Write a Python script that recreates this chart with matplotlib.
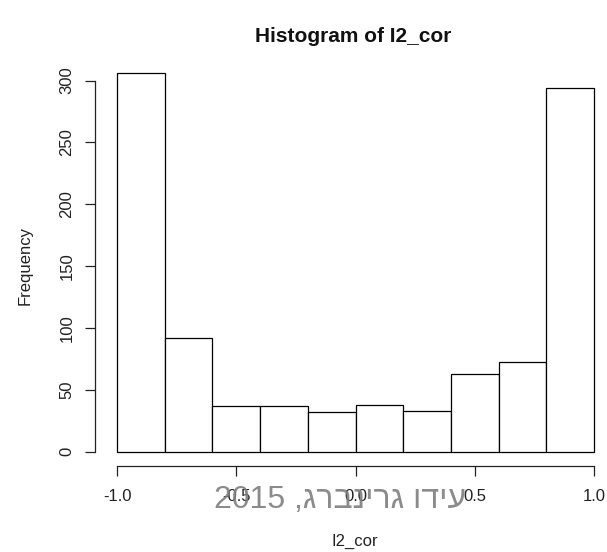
import numpy as np
import matplotlib
matplotlib.use("Agg")
import matplotlib.pyplot as plt

plt.rcParams["font.family"] = ["Liberation Sans", "DejaVu Sans"]

# bin edges and counts of I2_cor
bin_edges = [-1.0, -0.8, -0.6, -0.4, -0.2, 0.0, 0.2, 0.4, 0.6, 0.8, 1.0]
counts = [306, 92, 37, 37, 32, 38, 33, 63, 72, 294]
x_ticks = [-1.0, -0.5, 0.0, 0.5, 1.0]
y_ticks = [0, 50, 100, 150, 200, 250, 300]

W, H = 607, 552
fig = plt.figure(figsize=(W / 100, H / 100), dpi=100)

# plot region laid out in pixels, R style (4% padding on both axes)
px_x = 238.5
px_y = 371 / 300
xlim = (-1.08, 1.08)
ylim = (-12, 318)
left = 117 - (0 - xlim[0] - 1.0) * px_x
ax_w = (xlim[1] - xlim[0]) * px_x
bottom_px = 451.5 + (-ylim[0]) * px_y
ax_h = (ylim[1] - ylim[0]) * px_y
ax = fig.add_axes([left / W, (H - bottom_px) / H, ax_w / W, ax_h / H])
ax.set_xlim(*xlim)
ax.set_ylim(*ylim)

edges = np.array(bin_edges)
ax.bar(edges[:-1], counts, width=np.diff(edges), align="edge",
       facecolor="white", edgecolor="black", linewidth=0.9)

for s in ["top", "right"]:
    ax.spines[s].set_visible(False)
ax.spines["left"].set_bounds(0, 300)
ax.spines["bottom"].set_bounds(-1, 1)
ax.spines["left"].set_position(("outward", 2))
for s in ["left", "bottom"]:
    ax.spines[s].set_linewidth(0.9)
    ax.spines[s].set_color("#222222")

ax.set_xticks(x_ticks)
ax.set_xticklabels([f"{v:.1f}" for v in x_ticks])
ax.set_yticks(y_ticks)
ax.set_yticklabels([str(v) for v in y_ticks], rotation=90, va="center")
ax.tick_params(axis="both", direction="out", length=7, width=0.9,
               labelsize=12, color="#222222", labelcolor="#222222")
ax.tick_params(axis="x", pad=9)
ax.tick_params(axis="y", pad=8)

fig.text(353 / W, 1 - 37 / H, "Histogram of I2_cor", ha="center",
         va="center", fontsize=15, fontweight="bold", color="#111111")
fig.text(355 / W, 1 - 541 / H, "I2_cor", ha="center", va="center",
         fontsize=12, color="#222222")
fig.text(25 / W, 1 - 266 / H, "Frequency", ha="center", va="center",
         rotation=90, fontsize=12, color="#222222")

# watermark, Hebrew written in visual order
mark = "2015 ," + "עידו גרינברג"[::-1]
fig.text(340 / W, 1 - 500 / H, mark, ha="center", va="center",
         fontsize=23, color="#7f7f7f", alpha=0.9)

fig.savefig("out.png", dpi=100)
